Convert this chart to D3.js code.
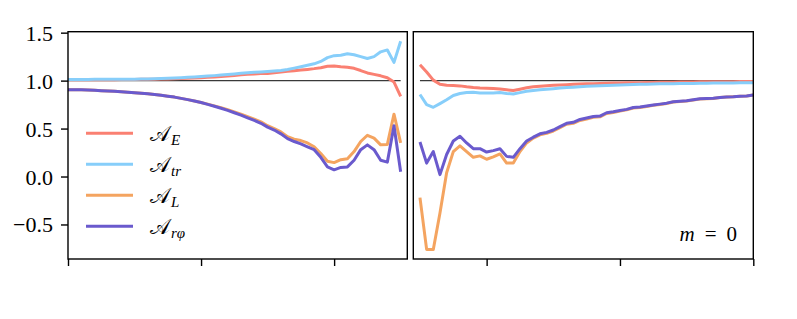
<!DOCTYPE html>
<html>
<head>
<meta charset="utf-8">
<script src="https://cdn.jsdelivr.net/npm/d3@7"></script>
<style>
  body { margin: 0; background: #fff; }
  svg { display: block; }
</style>
</head>
<body>
<script>
// sample positions (unlabelled x axis)
var xLeft = [0,0.05,0.1,0.15,0.2,0.25,0.3,0.35,0.4,0.45,0.5,0.55,0.6,0.65,0.7,0.75,0.8,0.85,0.9,0.95,
  1,1.05,1.1,1.15,1.2,1.25,1.3,1.35,1.4,1.45,1.5,1.55,1.6,1.65,1.7,1.75,1.8,1.85,1.9,1.95,
  2,2.05,2.1,2.15,2.2,2.25,2.3,2.35,2.4,2.45,2.5];
var xRight = [0.5,0.55,0.6,0.65,0.7,0.75,0.8,0.85,0.9,0.95,1,1.05,1.1,1.15,1.2,1.25,1.3,1.35,1.4,1.45,
  1.5,1.55,1.6,1.65,1.7,1.75,1.8,1.85,1.9,1.95,2,2.05,2.1,2.15,2.2,2.25,2.3,2.35,2.4,2.45,
  2.5,2.55,2.6,2.65,2.7,2.75,2.8,2.85,2.9,2.95,3];

// left panel
var aE_left = [1.008,1.008,1.008,1.008,1.009,1.009,1.01,1.01,1.011,1.011,1.012,1.013,1.014,1.015,1.016,1.018,1.02,1.022,1.024,1.027,
  1.03,1.034,1.038,1.043,1.048,1.054,1.06,1.066,1.07,1.073,1.075,1.082,1.09,1.097,1.104,1.11,1.117,1.125,1.135,1.15,
  1.152,1.145,1.14,1.128,1.105,1.08,1.065,1.05,1.03,0.985,0.835];
var aTr_left = [1.012,1.012,1.012,1.012,1.013,1.013,1.013,1.014,1.014,1.015,1.015,1.016,1.017,1.019,1.021,1.024,1.027,1.03,1.034,1.038,
  1.042,1.047,1.052,1.058,1.064,1.07,1.076,1.082,1.087,1.091,1.095,1.10,1.105,1.115,1.13,1.145,1.16,1.175,1.20,1.24,
  1.26,1.265,1.28,1.27,1.25,1.23,1.25,1.30,1.32,1.19,1.41];
var aL_left = [0.905,0.905,0.904,0.902,0.899,0.895,0.892,0.888,0.884,0.879,0.873,0.868,0.862,0.855,0.847,0.838,0.828,0.815,0.802,0.788,
  0.772,0.755,0.737,0.718,0.697,0.673,0.65,0.623,0.597,0.57,0.53,0.50,0.465,0.415,0.39,0.375,0.35,0.31,0.24,0.16,
  0.145,0.175,0.185,0.26,0.365,0.43,0.40,0.33,0.335,0.65,0.35];
var aRp_left = [0.905,0.905,0.904,0.902,0.899,0.895,0.892,0.888,0.884,0.879,0.873,0.868,0.862,0.855,0.847,0.838,0.828,0.815,0.802,0.788,
  0.772,0.752,0.732,0.712,0.69,0.665,0.64,0.612,0.585,0.555,0.515,0.485,0.445,0.395,0.365,0.34,0.31,0.28,0.20,0.10,
  0.07,0.095,0.10,0.17,0.28,0.33,0.28,0.17,0.15,0.53,0.05];

// right panel, m = 0
var aE_right = [1.165,1.09,1.005,0.962,0.952,0.948,0.945,0.935,0.927,0.922,0.92,0.918,0.912,0.905,0.896,0.91,0.925,0.935,0.942,0.947,
  0.952,0.955,0.958,0.961,0.964,0.966,0.968,0.97,0.972,0.974,0.975,0.977,0.978,0.979,0.98,0.981,0.982,0.983,0.984,0.985,
  0.986,0.986,0.987,0.987,0.988,0.988,0.989,0.989,0.99,0.99,0.99];
var aTr_right = [0.855,0.75,0.722,0.76,0.80,0.845,0.865,0.875,0.878,0.872,0.87,0.872,0.875,0.866,0.86,0.875,0.89,0.898,0.905,0.91,
  0.916,0.922,0.928,0.932,0.936,0.94,0.943,0.946,0.949,0.952,0.955,0.957,0.959,0.961,0.963,0.965,0.966,0.967,0.968,0.969,
  0.97,0.971,0.972,0.973,0.974,0.975,0.975,0.976,0.977,0.977,0.978];
var aL_right = [-0.22,-0.76,-0.76,-0.38,0.04,0.26,0.32,0.26,0.20,0.215,0.18,0.205,0.235,0.14,0.14,0.26,0.35,0.40,0.435,0.45,
  0.475,0.51,0.545,0.555,0.585,0.60,0.617,0.622,0.657,0.668,0.682,0.695,0.715,0.72,0.73,0.742,0.752,0.762,0.777,0.783,
  0.788,0.798,0.808,0.811,0.813,0.823,0.828,0.832,0.837,0.839,0.849];
var aRp_right = [0.36,0.14,0.26,0.02,0.23,0.37,0.42,0.35,0.29,0.29,0.255,0.27,0.29,0.21,0.20,0.29,0.37,0.41,0.445,0.46,
  0.485,0.52,0.555,0.565,0.595,0.61,0.625,0.63,0.665,0.675,0.688,0.70,0.72,0.725,0.735,0.745,0.755,0.765,0.78,0.785,
  0.79,0.80,0.81,0.813,0.815,0.825,0.83,0.833,0.838,0.84,0.85];

var yTicks = [-0.5, 0, 0.5, 1, 1.5];
var seriesNames = ["E", "tr", "L", "r\u03c6"];
var seriesColors = ["#fa8072", "#87cefa", "#f4a460", "#6a5acd"];

var serif = "'Liberation Serif', 'Times New Roman', 'DejaVu Serif', serif";
var width = 797, height = 319;
var plotTop = 31.7, plotBottom = 259;

var svg = d3.select("body").append("svg")
    .attr("width", width)
    .attr("height", height);

var y = d3.scaleLinear().domain([-0.86, 1.51]).range([plotBottom, plotTop]);

var panels = [
  { x: d3.scaleLinear().domain([0, 2.55]).range([68, 407.3]), xs: xLeft,
    series: [aE_left, aTr_left, aL_left, aRp_left], ticks: [0, 1, 2], yaxis: true },
  { x: d3.scaleLinear().domain([0.45, 3]).range([413.3, 753.3]), xs: xRight,
    series: [aE_right, aTr_right, aL_right, aRp_right], ticks: [1, 2, 3], yaxis: false }
];

panels.forEach(function(p) {
  var g = svg.append("g");
  var x = p.x;

  // reference line at 1
  g.append("line")
      .attr("x1", x(p.xs[0])).attr("x2", x(p.xs[p.xs.length - 1]))
      .attr("y1", y(1)).attr("y2", y(1))
      .attr("stroke", "#3a3a3a")
      .attr("stroke-width", 1.4);

  var line = d3.line()
      .x(function(d, i) { return x(p.xs[i]); })
      .y(function(d) { return y(d); });

  g.selectAll("path.series")
    .data(p.series)
    .enter().append("path")
      .attr("class", "series")
      .attr("fill", "none")
      .attr("stroke", function(d, i) { return seriesColors[i]; })
      .attr("stroke-width", 3)
      .attr("stroke-linejoin", "round")
      .attr("d", line);

  // frame
  g.append("rect")
      .attr("x", x.range()[0]).attr("y", plotTop)
      .attr("width", x.range()[1] - x.range()[0]).attr("height", plotBottom - plotTop)
      .attr("fill", "none")
      .attr("stroke", "#000")
      .attr("stroke-width", 1.4);

  var xAxis = g.append("g")
      .attr("transform", "translate(0," + plotBottom + ")")
      .call(d3.axisBottom(x).tickValues(p.ticks).tickSize(7).tickFormat(""));
  xAxis.select(".domain").remove();
  xAxis.selectAll("line").attr("stroke-width", 1.4);

  if (p.yaxis) {
    var yAxis = g.append("g")
        .attr("transform", "translate(" + x.range()[0] + ",0)")
        .attr("font-family", serif)
        .attr("font-size", 22)
        .call(d3.axisLeft(y).tickValues(yTicks).tickSize(7).tickPadding(8)
          .tickFormat(function(d) { return d3.format(".1f")(d).replace("-", "\u2212"); }));
    yAxis.attr("font-family", serif).attr("font-size", 22);
    yAxis.select(".domain").remove();
    yAxis.selectAll("line").attr("stroke-width", 1.4);
    yAxis.selectAll("text")
        .style("font-family", serif)
        .style("font-size", "22px")
        .attr("dy", "0.34em")
        .attr("fill", "#000");
  }
});

// legend
var legend = svg.append("g")
  .selectAll("g")
  .data(seriesNames)
  .enter().append("g")
    .attr("transform", function(d, i) { return "translate(86," + (133.3 + i * 31) + ")"; });

legend.append("line")
    .attr("x1", 0).attr("x2", 47)
    .attr("stroke", function(d, i) { return seriesColors[i]; })
    .attr("stroke-width", 3);

var lt = legend.append("text")
    .attr("x", 64)
    .attr("y", 8)
    .style("font-size", "21px")
    .style("font-family", "'DejaVu Serif', serif");
lt.append("tspan").text("\ud835\udc9c");
lt.append("tspan")
    .attr("dy", 4)
    .attr("dx", 1)
    .style("font-size", "15px")
    .style("font-style", "italic")
    .style("font-family", serif)
    .text(function(d) { return d; });

// panel label
var ml = svg.append("text")
    .attr("x", 737)
    .attr("y", 241)
    .attr("text-anchor", "end")
    .style("font-size", "21px")
    .style("font-family", serif);
ml.append("tspan").style("font-style", "italic").text("m");
ml.append("tspan").attr("dx", 10).text("=");
ml.append("tspan").attr("dx", 10).text("0");
</script>
</body>
</html>
